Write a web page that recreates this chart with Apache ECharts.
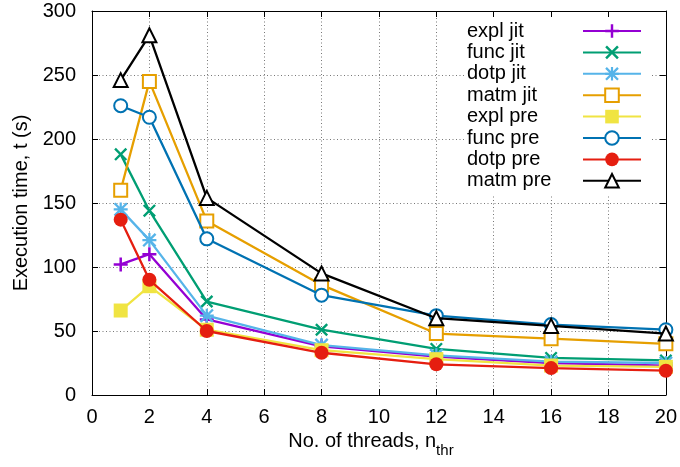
<!DOCTYPE html>
<html>
<head>
<meta charset="utf-8">
<script src="https://cdn.jsdelivr.net/npm/echarts@6/dist/echarts.min.js"></script>
<style>html,body{margin:0;padding:0;background:#fff}#c{width:680px;height:467px}</style>
</head>
<body>
<div id="c"></div>
<script>
const threads = [1, 2, 4, 8, 12, 16, 20];
const seriesNames = ['expl jit', 'func jit', 'dotp jit', 'matm jit', 'expl pre', 'func pre', 'dotp pre', 'matm pre'];
const explJit = [102, 110, 59, 38, 30, 25, 23];
const funcJit = [188, 144, 73, 51, 36, 29, 27];
const dotpJit = [145, 121, 62, 39, 31, 26, 25];
const matmJit = [160, 245, 136, 86, 48, 44, 40];
const explPre = [66, 85, 51, 35, 28, 23, 22];
const funcPre = [226, 217, 122, 78, 62, 55, 51];
const dotpPre = [137, 90, 50, 33, 24, 21, 19];
const matmPre = [246, 281, 154, 95, 60, 54, 48];
const xTicks = {min: 0, max: 20, interval: 2};
const yTicks = {min: 0, max: 300, interval: 50};

const FONT = "'Liberation Sans', Arial, Helvetica, sans-serif";
const PLUS = 'path://M0,4.1H10V5.9H0Z M4.1,0H5.9V10H4.1Z';
const CROSS = 'path://M0,1.3L1.3,0L10,8.7L8.7,10Z M8.7,0L10,1.3L1.3,10L0,8.7Z';
const STAR = 'path://M0,4.2H10V5.8H0Z M4.2,0H5.8V10H4.2Z M0,1.2L1.2,0L10,8.8L8.8,10Z M8.8,0L10,1.2L1.2,10L0,8.8Z';

const values = [explJit, funcJit, dotpJit, matmJit, explPre, funcPre, dotpPre, matmPre];
const colors = ['#9400d3', '#009e73', '#56b4e9', '#e69f00', '#f0e442', '#0072b2', '#e51e10', '#000000'];
const symbols = [PLUS, CROSS, STAR, 'emptyRect', 'rect', 'emptyCircle', 'circle', 'emptyTriangle'];
const sizes = [14, 13, 14, 13, 14, 13, 14, 14];
const empty = [false, false, false, true, false, true, false, true];

const chart = echarts.init(document.getElementById('c'), null, {renderer: 'canvas'});
const series = seriesNames.map((n, i) => ({
  name: n,
  type: 'line',
  data: threads.map((t, j) => [t, values[i][j]]),
  symbol: symbols[i],
  symbolSize: sizes[i],
  showSymbol: true,
  lineStyle: {color: colors[i], width: 2.3},
  itemStyle: {color: colors[i], borderColor: colors[i], borderWidth: empty[i] ? 2.2 : 0},
  emphasis: {disabled: true},
  z: 2 + i * 0.01
}));

const gridLine = {show: true, lineStyle: {color: '#777', type: [1, 2.5], width: 1}};
chart.setOption({
  animation: false,
  backgroundColor: '#fff',
  textStyle: {fontFamily: FONT},
  grid: {left: 92, right: 12, top: 11, bottom: 72, containLabel: false},
  legend: {
    orient: 'vertical',
    left: 465,
    top: 17,
    align: 'right',
    padding: [4, 9, 4, 2],
    backgroundColor: '#fff',
    itemWidth: 58,
    itemHeight: 17,
    itemGap: 1.4,
    data: seriesNames,
    selectedMode: false,
    formatter: name => '{t|' + name + '}',
    textStyle: {fontSize: 20, color: '#000', fontFamily: FONT,
      rich: {t: {fontSize: 20, fontFamily: FONT, width: 111, align: 'left', color: '#000'}}}
  },
  xAxis: [{
    type: 'value', min: xTicks.min, max: xTicks.max, interval: xTicks.interval,
    position: 'bottom',
    name: '{m|No. of threads, n}{s|thr}',
    nameLocation: 'middle', nameGap: 33,
    nameTextStyle: {fontSize: 20, color: '#000', fontFamily: FONT, padding: [0, 16, 0, 0],
      rich: {m: {fontSize: 20, fontFamily: FONT, padding: [0, 0, 6, 0], verticalAlign: 'bottom'},
             s: {fontSize: 15, fontFamily: FONT, verticalAlign: 'bottom'}}},
    axisLine: {show: true, onZero: false, lineStyle: {color: '#000', width: 1}},
    axisTick: {show: true, inside: true, length: 6, lineStyle: {color: '#000'}},
    axisLabel: {fontSize: 20, color: '#000', margin: 12, fontFamily: FONT},
    splitLine: gridLine
  }, {
    type: 'value', min: xTicks.min, max: xTicks.max, interval: xTicks.interval,
    position: 'top',
    axisLine: {show: true, onZero: false, lineStyle: {color: '#000', width: 1}},
    axisTick: {show: true, inside: true, length: 6, lineStyle: {color: '#000'}},
    axisLabel: {show: false},
    splitLine: {show: false}
  }],
  yAxis: [{
    type: 'value', min: yTicks.min, max: yTicks.max, interval: yTicks.interval,
    position: 'left',
    name: 'Execution time, t (s)',
    nameLocation: 'middle', nameGap: 61,
    nameTextStyle: {fontSize: 20, color: '#000', fontFamily: FONT},
    axisLine: {show: true, onZero: false, lineStyle: {color: '#000', width: 1}},
    axisTick: {show: true, inside: true, length: 6, lineStyle: {color: '#000'}},
    axisLabel: {fontSize: 20, color: '#000', margin: 16, fontFamily: FONT},
    splitLine: gridLine
  }, {
    type: 'value', min: yTicks.min, max: yTicks.max, interval: yTicks.interval,
    position: 'right',
    axisLine: {show: true, onZero: false, lineStyle: {color: '#000', width: 1}},
    axisTick: {show: true, inside: true, length: 6, lineStyle: {color: '#000'}},
    axisLabel: {show: false},
    splitLine: {show: false}
  }],
  series: series
});
</script>
</body>
</html>
